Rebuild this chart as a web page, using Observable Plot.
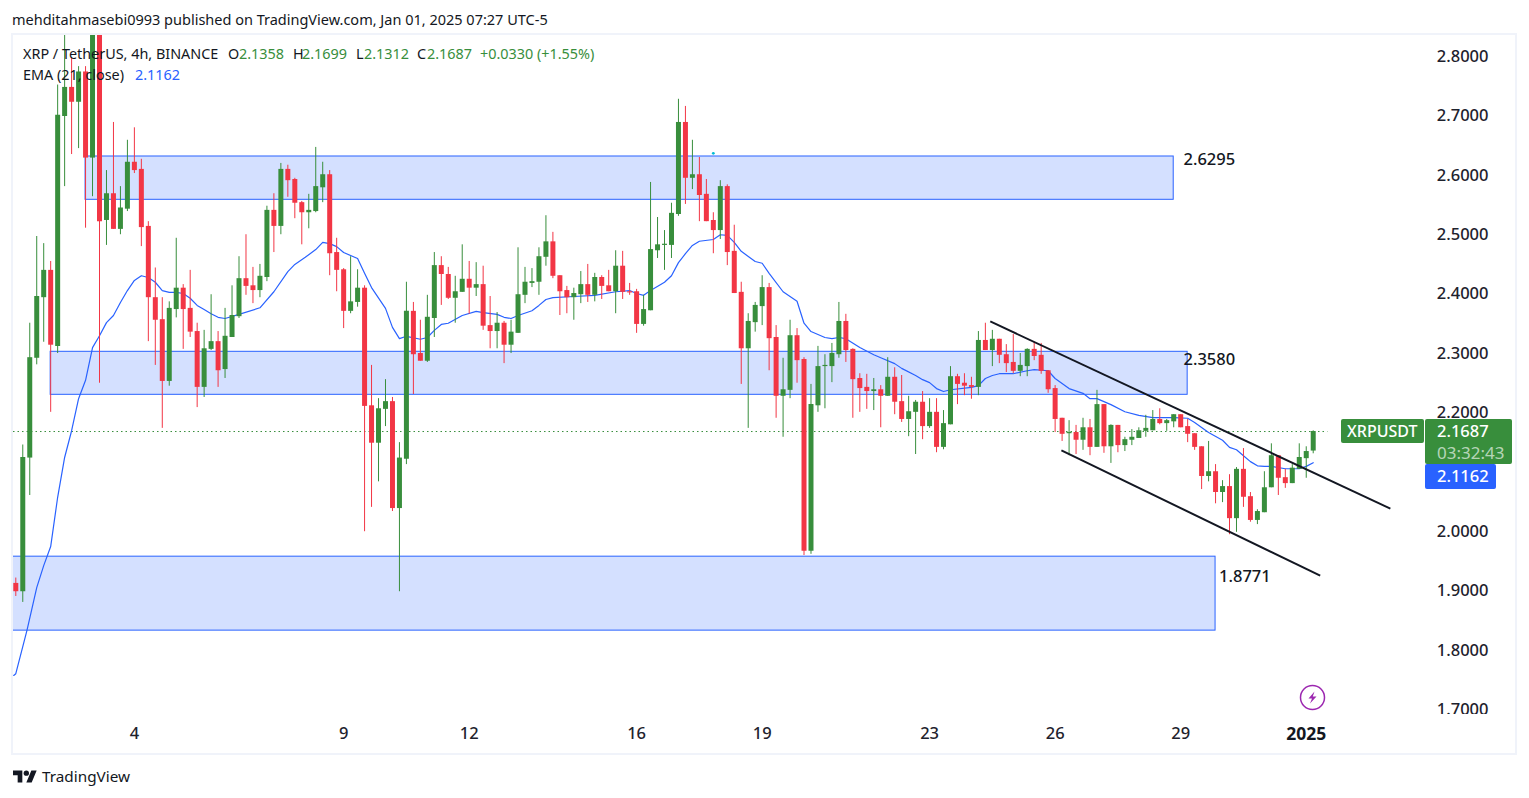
<!DOCTYPE html>
<html>
<head>
<meta charset="utf-8">
<script src="https://cdn.jsdelivr.net/npm/d3@7"></script>
<script src="https://cdn.jsdelivr.net/npm/@observablehq/plot@0.6"></script>
<style>
html,body{margin:0;padding:0;background:#fff;width:1529px;height:798px;overflow:hidden;font-family:"Noto Sans",sans-serif;color:#131722}
.abs{position:absolute;white-space:nowrap;line-height:1}
#frame{position:absolute;left:11px;top:33px;width:1502px;height:718px;border:2px solid #f0f3fa}
#chart{position:absolute;left:13px;top:35px}
.leg{font-size:14.4px}
.g{color:#388e3c}.b{color:#2962ff}
.tag{position:absolute;color:#fff;border-radius:2px}
</style>
</head>
<body>
<div id="frame"></div>
<div id="chart"></div>
<div id="over"></div>
<script>
const opens = [
1.913,1.899,2.124,2.292,2.394,2.440,2.312,2.699,2.748,2.723,
2.774,2.629,2.840,2.524,2.569,2.509,2.543,2.622,2.610,2.514,
2.394,2.357,2.253,2.374,2.410,2.376,2.337,2.243,2.307,2.320,
2.273,2.327,2.362,2.426,2.414,2.406,2.428,2.541,2.514,2.610,
2.593,2.554,2.537,2.539,2.579,2.601,2.470,2.441,2.371,2.386,
2.410,2.212,2.149,2.206,2.219,2.039,2.122,2.371,2.300,2.287,
2.359,2.448,2.433,2.393,2.403,2.425,2.410,2.416,2.347,2.337,
2.351,2.314,2.334,2.398,2.418,2.420,2.462,2.488,2.431,2.406,
2.394,2.399,2.416,2.398,2.428,2.414,2.404,2.447,2.404,2.404,
2.349,2.372,2.473,2.482,2.482,2.534,2.689,2.595,2.601,2.568,
2.524,2.507,2.581,2.472,2.403,2.308,2.352,2.379,2.411,2.327,
2.228,2.238,2.330,2.290,1.967,2.212,2.278,2.278,2.298,2.354,
2.307,2.258,2.243,2.236,2.239,2.228,2.260,2.219,2.189,2.201,
2.218,2.177,2.201,2.142,2.180,2.261,2.250,2.246,2.243,2.322,
2.305,2.324,2.298,2.285,2.270,2.278,2.307,2.297,2.271,2.241,
2.191,2.165,2.167,2.154,2.175,2.142,2.214,2.143,2.179,2.145,
2.154,2.157,2.169,2.170,2.189,2.182,2.185,2.197,2.177,2.165,
2.143,2.093,2.101,2.066,2.076,2.022,2.105,2.059,2.019,2.032,
2.074,2.128,2.091,2.081,2.105,2.123,2.1358];
const closes = [
1.899,2.125,2.293,2.396,2.440,2.314,2.701,2.748,2.723,2.774,
2.629,2.840,2.522,2.569,2.509,2.545,2.622,2.608,2.512,2.394,
2.356,2.253,2.376,2.410,2.374,2.336,2.243,2.308,2.320,2.271,
2.329,2.364,2.426,2.413,2.406,2.430,2.541,2.514,2.610,2.591,
2.553,2.537,2.541,2.581,2.601,2.468,2.440,2.371,2.387,2.410,
2.211,2.149,2.207,2.219,2.039,2.124,2.371,2.298,2.287,2.361,
2.448,2.433,2.393,2.404,2.425,2.410,2.416,2.346,2.337,2.351,
2.314,2.336,2.399,2.420,2.421,2.463,2.488,2.430,2.404,2.394,
2.401,2.416,2.398,2.428,2.413,2.404,2.447,2.403,2.402,2.349,
2.374,2.475,2.483,2.484,2.536,2.689,2.595,2.601,2.566,2.522,
2.507,2.581,2.470,2.401,2.308,2.354,2.381,2.411,2.325,2.228,
2.239,2.330,2.288,1.967,2.214,2.278,2.280,2.300,2.354,2.305,
2.256,2.241,2.236,2.239,2.228,2.260,2.218,2.189,2.202,2.218,
2.177,2.201,2.142,2.182,2.261,2.248,2.245,2.243,2.322,2.305,
2.324,2.297,2.283,2.270,2.280,2.307,2.295,2.270,2.239,2.189,
2.164,2.167,2.154,2.175,2.142,2.214,2.143,2.179,2.145,2.155,
2.159,2.170,2.174,2.189,2.182,2.187,2.197,2.175,2.164,2.142,
2.093,2.101,2.066,2.076,2.022,2.105,2.058,2.019,2.034,2.074,
2.128,2.090,2.081,2.107,2.125,2.135,2.1687];
const highs = [
1.922,2.146,2.351,2.497,2.485,2.455,2.752,2.853,2.798,2.783,
2.783,2.860,2.860,2.608,2.689,2.581,2.659,2.680,2.627,2.522,
2.444,2.394,2.387,2.494,2.416,2.440,2.351,2.339,2.399,2.337,
2.376,2.414,2.463,2.500,2.445,2.450,2.548,2.569,2.620,2.617,
2.595,2.556,2.568,2.647,2.622,2.608,2.494,2.443,2.463,2.441,
2.414,2.280,2.224,2.256,2.226,2.150,2.420,2.386,2.356,2.398,
2.470,2.463,2.445,2.430,2.483,2.455,2.453,2.447,2.396,2.369,
2.354,2.356,2.478,2.445,2.443,2.478,2.532,2.504,2.431,2.413,
2.410,2.438,2.450,2.435,2.431,2.440,2.473,2.472,2.418,2.408,
2.398,2.588,2.529,2.507,2.553,2.728,2.716,2.659,2.630,2.593,
2.537,2.591,2.584,2.516,2.420,2.367,2.386,2.431,2.418,2.347,
2.292,2.356,2.342,2.293,2.248,2.312,2.298,2.317,2.386,2.366,
2.308,2.266,2.265,2.258,2.246,2.293,2.276,2.263,2.228,2.221,
2.236,2.224,2.224,2.204,2.278,2.265,2.266,2.260,2.337,2.351,
2.339,2.324,2.315,2.332,2.300,2.308,2.319,2.317,2.271,2.246,
2.191,2.187,2.179,2.191,2.189,2.238,2.214,2.180,2.179,2.159,
2.172,2.175,2.196,2.204,2.207,2.189,2.197,2.197,2.189,2.165,
2.143,2.152,2.113,2.086,2.096,2.108,2.140,2.066,2.037,2.101,
2.148,2.128,2.105,2.113,2.148,2.143,2.1699];
const lows = [
1.891,1.881,2.061,2.281,2.319,2.201,2.300,2.581,2.635,2.645,
2.511,2.564,2.250,2.482,2.509,2.500,2.539,2.603,2.480,2.320,
2.280,2.174,2.245,2.360,2.307,2.327,2.209,2.226,2.305,2.243,
2.258,2.327,2.359,2.398,2.384,2.394,2.421,2.470,2.500,2.563,
2.527,2.483,2.510,2.537,2.554,2.431,2.404,2.342,2.367,2.378,
2.000,2.041,2.084,2.177,2.034,1.899,2.113,2.231,2.287,2.285,
2.327,2.381,2.391,2.351,2.403,2.366,2.396,2.339,2.308,2.308,
2.283,2.300,2.334,2.384,2.411,2.398,2.447,2.426,2.364,2.367,
2.356,2.384,2.386,2.387,2.391,2.404,2.367,2.391,2.398,2.334,
2.346,2.372,2.460,2.440,2.460,2.531,2.551,2.576,2.522,2.522,
2.468,2.492,2.448,2.401,2.248,2.174,2.336,2.347,2.271,2.191,
2.159,2.224,2.250,1.960,1.962,2.201,2.207,2.251,2.292,2.285,
2.191,2.201,2.206,2.204,2.175,2.228,2.197,2.184,2.160,2.130,
2.155,2.174,2.133,2.138,2.180,2.214,2.229,2.223,2.229,2.305,
2.278,2.283,2.268,2.266,2.261,2.261,2.288,2.265,2.233,2.167,
2.152,2.128,2.130,2.137,2.128,2.142,2.132,2.115,2.133,2.135,
2.145,2.157,2.159,2.170,2.180,2.169,2.175,2.175,2.150,2.137,
2.071,2.084,2.047,2.049,1.995,1.999,2.041,2.016,2.012,2.032,
2.074,2.061,2.073,2.081,2.105,2.090,2.1312];

const emaIdx = [-0.3,0,1.6,3,4,5,6,7,8,9,10,11,12,13,14,15,16,17,18,19,20,21,22,23,24,25,26,27,28,29,30,32,35,37,39,40,41.5,43,44,45,46,47,49,50,51,53,54,55,56,58,59,60,61,62,64,66,67,69,70,71,72,74,75,76,77,80,83,86,88,89,90,91,93,94,95,96,97,98,100,101,102,103,104,106,107,108,110,112,113,114,116,117,118,119,121,123,124,126,127,129,130,131,132,133,134,137,138,139,140,141,143,145,146,148,149,151,153,154,155,157,159,161,163,166,168,169,171,173,174,175,176,177,178,179,180,182,184,185,186];
const emaVal = [1.758,1.761,1.834,1.906,1.943,1.975,2.058,2.125,2.170,2.224,2.255,2.310,2.330,2.352,2.364,2.386,2.406,2.423,2.431,2.428,2.420,2.406,2.403,2.403,2.401,2.393,2.381,2.374,2.367,2.361,2.359,2.366,2.377,2.404,2.438,2.450,2.462,2.475,2.487,2.485,2.480,2.470,2.460,2.435,2.411,2.376,2.344,2.325,2.329,2.324,2.327,2.339,2.349,2.351,2.364,2.371,2.369,2.366,2.361,2.359,2.364,2.372,2.381,2.391,2.394,2.396,2.398,2.404,2.406,2.401,2.398,2.406,2.420,2.431,2.453,2.468,2.482,2.489,2.492,2.500,2.499,2.487,2.472,2.455,2.452,2.435,2.404,2.388,2.351,2.337,2.327,2.325,2.327,2.325,2.310,2.298,2.293,2.283,2.275,2.263,2.256,2.251,2.241,2.236,2.239,2.243,2.246,2.258,2.263,2.266,2.266,2.271,2.273,2.271,2.258,2.241,2.233,2.224,2.224,2.214,2.202,2.196,2.192,2.192,2.191,2.184,2.167,2.154,2.142,2.138,2.128,2.118,2.111,2.110,2.110,2.106,2.106,2.110,2.1162];

const zoneStart = [10,5,-1];
const zoneEnd = [166,168,172];
const zoneTop = [2.6317,2.3029,1.958];
const zoneBottom = [2.5588,2.2305,1.8335];
const zoneLabel = ["2.6295","2.3580","1.8771"];
const zoneLabelIdx = [167.4,167.4,172.5];
const zoneLabelPrice = [2.6255,2.290,1.9235];

const trendIdx1 = [139.7,149.9];
const trendIdx2 = [197.06,187.0];
const trendPrice1 = [2.354,2.137];
const trendPrice2 = [2.039,1.926];

const yTicks = [1.7,1.8,1.9,2.0,2.2,2.3,2.4,2.5,2.6,2.7,2.8];
const dayIdx = [17,47,65,89,107,131,149,167];
const dayLabel = ["4","9","12","16","19","23","26","29"];
const yearIdx = [185];
const yearLabel = ["2025"];
const lastPrice = 2.1687;

const candles = d3.range(opens.length).map(i=>({i,o:opens[i],c:closes[i],h:highs[i],l:lows[i],dir:closes[i]>=opens[i]?"up":"down"}));
const ema = emaIdx.map((x,k)=>({x,y:emaVal[k]}));
const zones = zoneStart.map((s,k)=>({x1:s,x2:zoneEnd[k],y1:zoneTop[k],y2:zoneBottom[k]}));
const trends = trendIdx1.map((a,k)=>({x1:a,x2:trendIdx2[k],y1:trendPrice1[k],y2:trendPrice2[k]}));
const zoneTexts = zoneLabel.map((t,k)=>({t,x:zoneLabelIdx[k],y:zoneLabelPrice[k]}));

const font = '"Noto Sans",sans-serif';
const chart = Plot.plot({
  width:1502,height:718,marginTop:0,marginBottom:39,marginLeft:0,marginRight:0,
  style:{background:"transparent",fontFamily:font,overflow:"visible",color:"#131722"},
  x:{domain:[-0.33,215],range:[0,1502],axis:null},
  y:{domain:[1.6923,2.8354],axis:null},
  color:{domain:["up","down"],range:["#388e3c","#f23645"]},
  marks:[
    Plot.rect(zones,{x1:"x1",x2:"x2",y1:"y1",y2:"y2",fill:"#2962ff",fillOpacity:0.2,stroke:"#2962ff",strokeWidth:1,clip:true}),
    Plot.ruleY([lastPrice],{x1:-0.33,x2:188.1,stroke:"#388e3c",strokeDasharray:"1.5,3",strokeWidth:1}),
    Plot.line(ema,{x:"x",y:"y",stroke:"#2962ff",strokeWidth:1.2,clip:true}),
    Plot.ruleX(candles,{x:"i",y1:"l",y2:"h",stroke:"dir",strokeWidth:1,clip:true}),
    Plot.ruleX(candles,{x:"i",y1:"o",y2:"c",stroke:"dir",strokeWidth:5,clip:true}),
    Plot.link(trends,{x1:"x1",y1:"y1",x2:"x2",y2:"y2",stroke:"#131722",strokeWidth:2}),
    Plot.dot([{x:100,y:2.637}],{x:"x",y:"y",r:1.4,fill:"#00bcd4"}),
    Plot.text(zoneTexts,{x:"x",y:"y",text:"t",textAnchor:"start",fontSize:16.5,fontWeight:500,fill:"#131722"}),
    Plot.text(yTicks,{y:d=>d,frameAnchor:"right",dx:-27,textAnchor:"end",text:d=>d3.format(".4f")(d),fontSize:16.5,fontWeight:500,fill:"#1e222d",clip:true}),
    Plot.axisX(dayIdx,{anchor:"bottom",tickSize:0,tickPadding:13,label:null,tickFormat:d=>dayLabel[dayIdx.indexOf(d)],fontSize:16.5,fontWeight:500,fill:"#1e222d"}),
    Plot.axisX(yearIdx,{anchor:"bottom",tickSize:0,tickPadding:13,label:null,tickFormat:d=>yearLabel[yearIdx.indexOf(d)],fontSize:17.5,fontWeight:700,fill:"#131722"})
  ]
});
document.getElementById("chart").appendChild(chart);

const T=(l,t,txt,cls,extra="")=>`<div class="abs ${cls}" style="left:${l}px;top:${t}px;${extra}">${txt}</div>`;
document.getElementById("over").innerHTML = [
 T(12,12,"mehditahmasebi0993 published on TradingView.com, Jan 01, 2025 07:27 UTC-5","","font-size:14.5px"),
 T(23,47,"XRP / TetherUS, 4h, BINANCE","leg"),
 T(228,47,"O","leg"),T(239,47,"2.1358","leg g"),
 T(293,47,"H","leg"),T(302,47,"2.1699","leg g"),
 T(356,47,"L","leg"),T(364,47,"2.1312","leg g"),
 T(417,47,"C","leg"),T(427,47,"2.1687","leg g"),
 T(480,47,"+0.0330 (+1.55%)","leg g"),
 T(23,68,"EMA (21, close)","leg"),
 T(135,68,"2.1162","leg b"),
 `<div class="tag" style="left:1341px;top:419px;width:83px;height:24px;background:#388e3c"></div>`,
 T(1347,423,"XRPUSDT","","color:#fff;font-size:16px;font-weight:500"),
 `<div class="tag" style="left:1425px;top:419px;width:87px;height:45px;background:#388e3c"></div>`,
 T(1437,423,"2.1687","","color:#fff;font-size:16.5px;font-weight:500"),
 T(1437,444,"03:32:43","","color:rgba(255,255,255,.65);font-size:17px"),
 `<div class="tag" style="left:1425px;top:464px;width:71px;height:25px;background:#2962ff"></div>`,
 T(1437,468,"2.1162","","color:#fff;font-size:16.5px;font-weight:500"),
 `<svg class="abs" style="left:1299px;top:684px" width="27" height="27" viewBox="0 0 27 27"><circle cx="13.5" cy="13.5" r="12" fill="#fff" stroke="#9c27b0" stroke-width="1.5"/><path d="M15.5 7.5L9.5 14.5h3.5l-2 5 6.5-7h-3.7z" fill="#9c27b0"/></svg>`,
 `<svg class="abs" style="left:13px;top:770px" width="24" height="13" viewBox="0 0 36 18"><path d="M14 18H7V7H0V0h14zM28 18h-8L27.5 0h8z" fill="#131722"/><circle cx="20" cy="4" r="4" fill="#131722"/></svg>`,
 T(42,769,"TradingView","","font-size:15.3px;color:#131722")
].join("");
</script>
</body>
</html>
